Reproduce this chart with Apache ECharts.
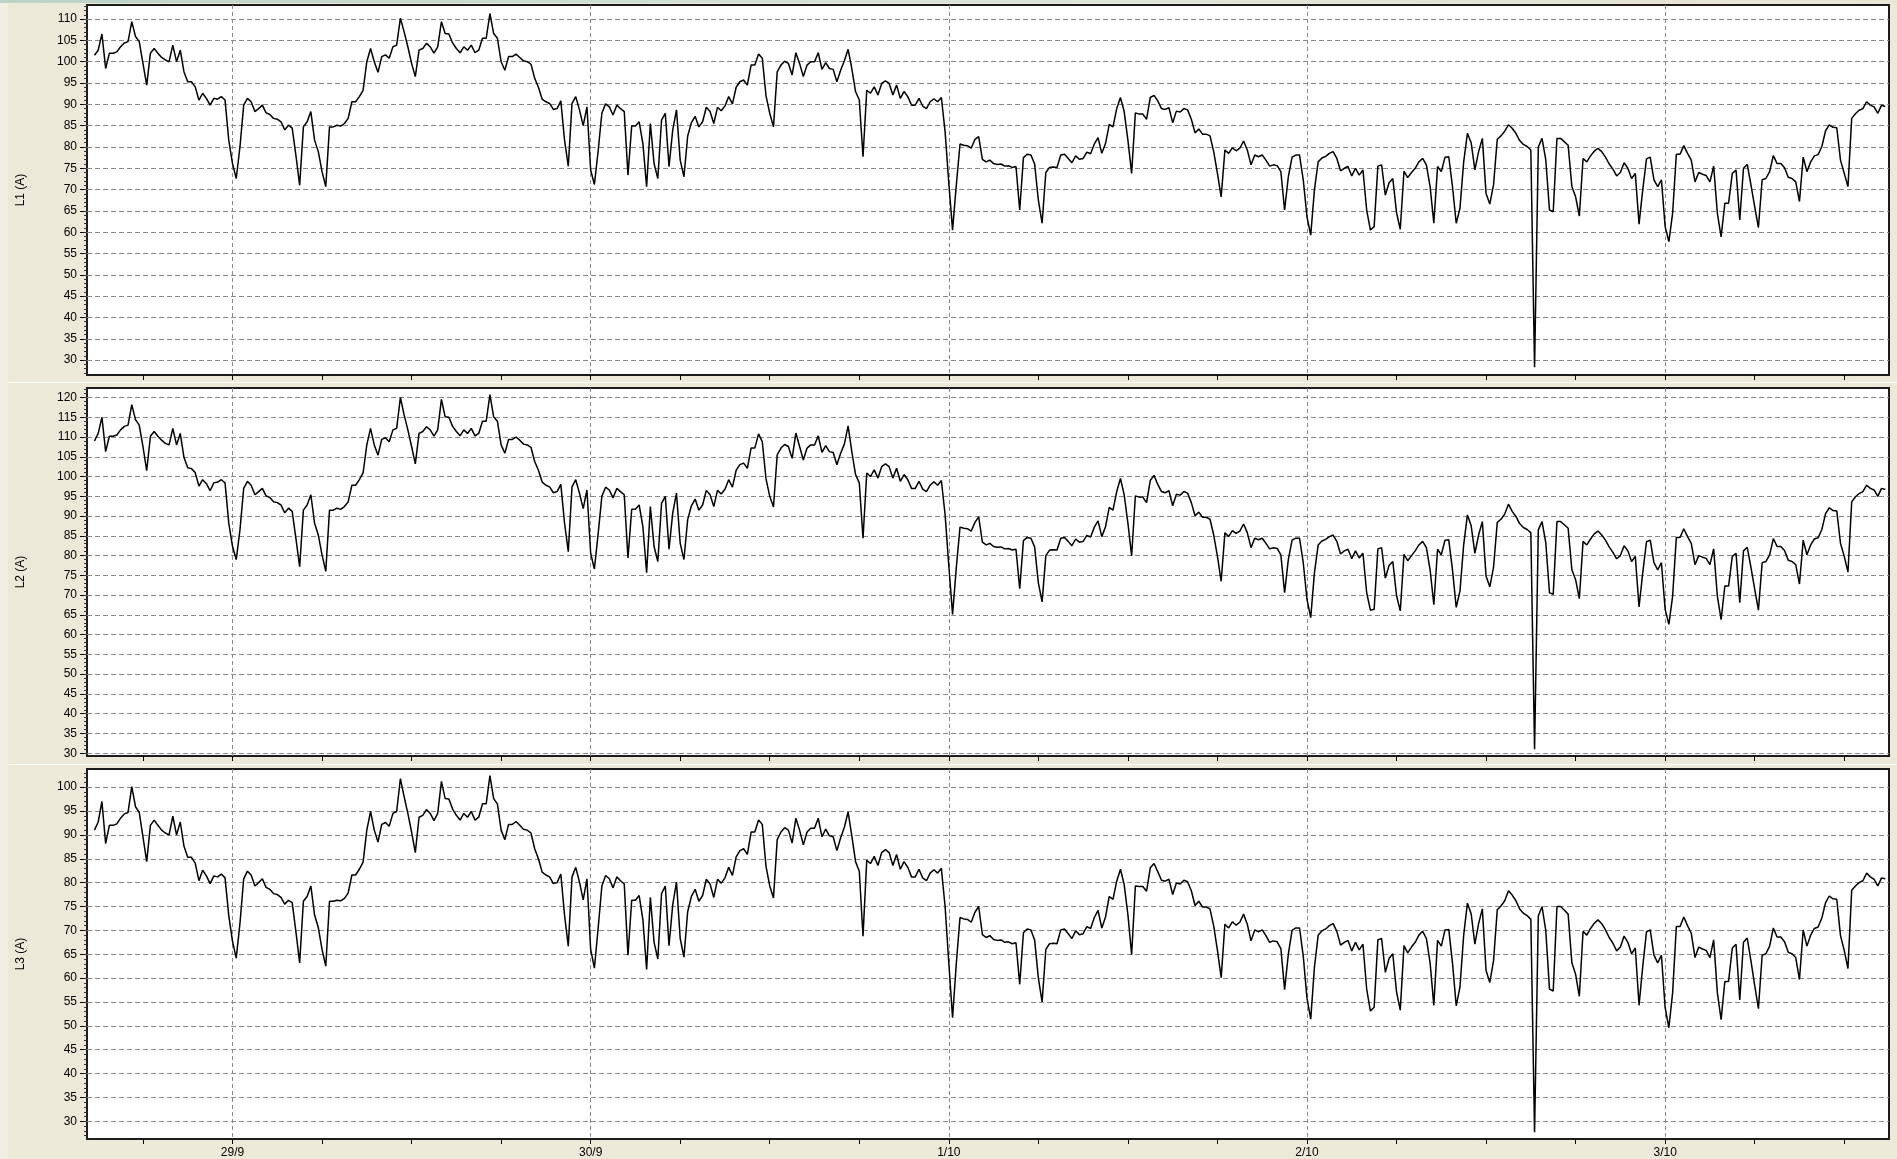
<!DOCTYPE html>
<html>
<head>
<meta charset="utf-8">
<script src="https://cdn.jsdelivr.net/npm/echarts@6/dist/echarts.min.js"></script>
<style>
html,body{margin:0;padding:0;background:#ECE9D8;}
#chart{width:1897px;height:1159px;}
</style>
</head>
<body>
<div id="chart"></div>
<script>
// ---- time categories (15-minute slots from 28/9 14:15 to 3/10 15:00) ----
const DAY_LABELS = ['28/9', '29/9', '30/9', '1/10', '2/10', '3/10'];
const START_MINUTE = 14 * 60 + 15;
const STEP_MINUTES = 15;
const CATEGORY_COUNT = 484;
const DATA_START_INDEX = 2; // first reading at 28/9 14:45

// ---- phase currents (A), one reading every 15 minutes ----
const L1 = [
101.5,102.7,106.5,98.4,102,102,102.3,103.5,104.4,104.7,
109.4,105.9,104.7,99.6,94.5,102,103.1,102,101,100.4,
100,103.9,100,102.7,97.6,95.3,95.3,94.1,91,92.6,
91.4,89.8,91.4,91.2,91.8,91,81.6,76.1,72.6,80,
89.8,91.4,90.6,88.3,89,89.8,88,87.6,86.7,86.5,
85.9,84,85.1,84.4,78,71,84.7,85.9,88.3,81.6,
78.9,74.2,70.7,84.7,84.7,85.1,84.9,85.5,86.7,90.6,
90.6,91.8,93.3,100,103.1,100,97.5,101.2,101.6,100.8,
103.5,103.9,110.2,107,103.5,99.6,96.5,102.7,103.1,104.3,
103.5,102,103.5,109.4,106.6,106.5,104.4,103.1,102.1,103.5,
102.7,103.9,102.1,102.7,105.5,105.5,111.3,106.6,105.5,100,
98,101.2,101.2,101.8,101,100.2,100,99.4,96.1,94,
91.2,90.6,90.2,88.8,89,90.8,81.6,75.5,90.2,91.8,
88.7,85,89.4,74.6,71.2,79,87.9,90.1,89.4,87.5,
89.8,89,88.3,73.4,84.9,84.9,85.9,80.8,70.7,85.5,
76.1,72.6,86.3,87.9,75.4,84,88.7,76.9,73,82.5,
85.7,87.2,84.7,85.9,89.3,88.3,85.5,89.3,88.5,89.6,
91.8,90.1,94,95.3,95.7,94.5,99.2,99.2,101.8,100.8,
92,87.9,84.7,97.6,99.2,100.1,99.6,96.9,102.1,99.6,
96.5,99.2,100,100,102.1,98.2,99.8,98.4,98.2,95.3,
98,100.2,102.9,98.4,93,91,77.7,93.3,92.6,94.1,
92.2,94.9,95.5,94.9,92.2,94.5,91.4,93,91.8,89.8,
89.8,91.4,89.6,89,90.6,91.3,90.6,91.6,83.6,71.5,
60.5,71,80.7,80.4,80.3,79.7,81.8,82.4,77.1,76.5,
76.9,76.1,75.9,76,75.5,75.6,75.2,75.4,65.2,77.5,
78.3,78.1,76,67.5,62.1,74,75.2,75.3,75.2,78.1,
78.3,77.3,76.3,77.9,77.1,77.3,78.8,78.4,80.7,82.2,
78.5,80.8,85.3,84.7,89,91.6,88.3,81.6,73.8,88,
87.7,87.7,86.5,91.6,92.1,90.8,89,88.8,89.2,85.7,
88.4,88.2,89,88.7,86.5,83.3,84.2,83,83,82.6,
78.9,73.8,68.3,79.3,78.5,79.8,79.1,79.7,81.4,79.3,
75.8,78.1,77.7,78.1,76.9,75.5,75.8,75.6,74.2,65.2,
73,77.6,78.1,78.1,72.3,63.6,59.3,70,76.5,77.4,
77.8,78.5,78.9,77.3,74.4,75,75.4,73.2,75,73.4,
74.6,65.2,60.5,61.3,75.5,75.8,68.7,71.6,72.6,64.6,
60.7,74.3,72.8,74,75,76.5,77.3,75.8,70.7,62.1,
75.4,74.2,77.6,77.7,70.7,62.1,65.6,76.5,83.2,81,
74.6,78.9,82,69.1,66.6,71.1,81.8,82.6,83.7,85.2,
84.4,83.2,81.5,80.6,80.1,79.3,28.3,80,82,77,
65.2,64.8,82,82,81.2,80.4,70.7,68.3,63.8,77.3,
76.5,77.9,79,79.7,78.9,77.6,76,74.8,73.2,74,
76.3,75,72.6,73.8,61.9,70,77.2,77.6,72.3,70.7,
72.3,61.3,57.8,64.4,78.3,78.3,80.3,78.5,76.9,71.8,
74,73.6,73.3,71.8,75.5,64.4,58.9,66.8,66.8,73.8,
74.6,62.9,75,75.9,71.1,66,61.1,72.3,72.6,74.2,
78,76.1,76.1,75.1,72.9,72.6,71.8,67.2,77.6,74.2,
76.5,77.9,78.2,80.1,83.8,85.2,84.6,84.5,76.9,73.8,
70.7,86.7,87.8,88.6,89,90.6,89.8,89.4,87.9,89.8,
89.5
];

const L2 = [
109.0,110.9,115.0,106.3,110.2,110.2,110.5,111.8,112.7,113.0,
118.2,114.4,113.0,107.6,101.5,110.2,111.4,110.2,109.2,108.4,
108.0,112.2,108.0,110.9,104.8,102.2,102.0,101.0,97.6,99.2,
98.2,96.4,98.4,98.6,99.2,98.4,88.2,82.3,79.0,86.5,
97.0,98.8,97.8,95.4,96.2,97.0,95.1,94.7,93.6,93.4,
92.8,90.8,92.0,91.2,84.3,77.2,91.5,92.8,95.4,88.2,
85.2,80.2,76.0,91.5,91.5,92.0,91.7,92.4,93.6,97.8,
97.8,99.2,100.9,108.0,112.2,108.0,105.4,109.4,109.8,108.8,
111.8,112.2,120.0,115.6,111.8,107.6,103.2,110.9,111.4,112.6,
111.8,110.2,111.8,119.5,115.1,115.0,112.7,111.4,110.3,111.8,
110.9,112.2,110.3,110.9,114.0,114.0,120.7,115.1,114.0,108.0,
105.9,109.4,109.4,110.0,109.2,108.2,108.0,107.4,103.8,101.6,
98.6,97.8,97.4,95.9,96.2,98.0,88.2,81.0,97.4,99.2,
95.8,91.9,96.6,80.6,76.6,85.5,95.0,97.3,96.6,94.6,
97.0,96.2,95.4,79.4,91.7,91.7,92.8,87.3,75.7,92.4,
82.3,78.5,93.2,95.0,81.6,90.8,95.8,83.1,79.0,89.1,
92.6,94.3,91.5,92.8,96.5,95.4,92.4,96.5,95.6,96.8,
99.2,97.3,101.6,103.0,103.4,102.1,107.2,107.2,110.8,108.8,
99.4,95.0,92.3,105.5,107.2,108.1,107.6,104.6,111.0,107.6,
104.2,107.2,108.0,108.0,110.3,106.1,107.8,106.3,106.1,103.0,
105.9,108.2,112.8,106.3,100.5,98.4,84.4,100.9,100.0,101.7,
99.6,102.5,103.2,102.5,99.6,102.1,98.8,100.5,99.2,97.0,
97.0,98.8,96.8,96.2,97.8,98.7,97.8,99.0,90.4,77.4,
65.1,76.9,87.2,86.9,86.8,86.2,88.4,89.8,83.4,82.7,
83.1,82.3,82.1,82.2,81.7,81.8,81.4,81.6,71.6,83.8,
84.6,84.4,82.2,73.1,68.3,80.0,81.4,81.5,81.4,84.4,
84.6,83.6,82.5,84.2,83.4,83.6,85.1,84.7,87.2,88.8,
84.8,87.3,92.2,91.5,96.2,99.5,95.4,88.2,79.9,95.1,
94.8,94.8,93.4,99.0,100.3,98.0,96.2,95.9,96.4,92.6,
95.5,95.3,96.2,95.8,93.4,90.1,91.0,89.7,89.7,89.2,
85.2,79.8,73.5,85.8,84.8,86.3,85.6,86.2,88.0,85.8,
82.0,84.4,84.0,84.4,83.1,81.7,82.0,81.8,80.2,70.6,
79.0,83.9,84.4,84.4,78.2,68.9,64.3,75.7,82.7,83.7,
84.1,84.8,85.2,83.6,80.4,81.2,81.6,79.2,81.2,79.4,
80.6,70.6,66.2,66.4,81.7,82.0,74.3,77.5,78.5,69.9,
66.0,80.3,78.7,80.0,81.2,82.7,83.6,82.0,76.4,67.6,
81.6,80.2,83.9,84.0,76.4,66.9,71.0,82.7,90.3,87.6,
80.6,85.2,88.6,74.8,72.1,77.0,88.4,89.2,90.5,93.0,
91.2,89.9,88.1,87.1,86.6,85.8,31.0,86.5,88.6,83.3,
70.6,70.2,88.6,88.6,87.8,86.9,76.4,73.9,69.1,83.6,
82.7,84.2,85.5,86.2,85.2,83.9,82.2,80.8,79.2,80.0,
82.5,81.2,78.5,79.8,67.0,75.7,83.5,83.9,78.2,76.4,
78.2,66.4,62.6,69.7,84.6,84.6,86.8,84.8,83.1,77.7,
80.0,79.6,79.3,77.7,81.7,69.7,63.8,72.3,72.3,79.8,
80.6,68.1,81.2,82.1,77.0,71.5,66.2,78.2,78.5,80.2,
84.3,82.3,82.3,81.3,78.8,78.5,77.7,72.8,83.9,80.2,
82.7,84.2,84.5,86.6,90.6,92.1,91.4,91.3,83.1,79.8,
75.8,93.6,94.9,95.7,96.2,97.8,97.0,96.6,95.0,97.0,
96.7
];

const L3 = [
91.0,92.7,97.0,88.2,92.0,92.0,92.3,93.5,94.4,94.7,
100.1,95.9,94.7,89.6,84.4,92.0,93.1,92.0,91.0,90.4,
90.0,93.9,90.0,92.7,87.6,85.3,85.3,84.1,80.4,82.6,
81.4,79.8,81.4,81.2,81.8,81.0,73.1,67.7,64.2,71.5,
80.8,82.4,81.6,79.3,80.0,80.8,79.0,78.6,77.7,77.5,
76.9,75.5,76.3,75.8,69.7,63.2,76.1,77.1,79.3,73.2,
70.6,66.0,62.5,76.1,76.1,76.3,76.2,76.7,77.8,81.6,
81.6,82.8,84.3,91.0,94.9,91.0,88.5,92.2,92.6,91.8,
94.5,94.9,101.8,98.0,94.5,90.6,86.3,93.7,94.1,95.3,
94.5,93.0,94.5,101.2,97.6,97.5,95.4,94.1,93.1,94.5,
93.7,94.9,93.1,93.7,96.5,96.5,102.4,97.6,96.5,91.0,
89.0,92.2,92.2,92.8,92.0,91.2,91.0,90.4,87.1,85.0,
82.2,81.6,81.2,79.8,80.0,81.8,73.2,66.7,81.2,83.2,
80.1,76.4,80.8,66.0,62.1,70.4,79.3,81.5,80.8,78.9,
81.2,80.4,79.7,64.8,76.3,76.3,77.3,72.2,61.8,76.9,
67.5,64.0,77.7,79.3,66.8,75.4,80.1,68.3,64.4,73.9,
77.1,78.6,76.1,77.3,80.7,79.7,76.9,80.7,79.9,81.0,
83.2,81.5,85.4,86.7,87.1,85.9,90.6,90.6,93.1,92.2,
83.4,79.3,76.8,89.0,90.6,91.5,91.0,88.3,93.5,91.0,
87.9,90.6,91.4,91.4,93.5,89.6,91.2,89.8,89.6,86.7,
89.4,91.6,94.8,89.8,84.4,82.4,68.8,84.7,84.0,85.5,
83.6,86.3,86.9,86.3,83.6,85.9,82.8,84.4,83.2,81.2,
81.2,82.8,81.0,80.4,82.0,82.7,82.0,83.0,75.0,63.1,
51.7,63.0,72.7,72.4,72.3,71.7,73.8,75.0,69.1,68.5,
68.9,68.1,67.9,68.0,67.5,67.6,67.2,67.4,58.7,69.5,
70.3,70.1,68.0,60.0,55.0,66.0,67.2,67.3,67.2,70.1,
70.3,69.3,68.3,69.9,69.1,69.3,70.8,70.4,72.7,74.2,
70.5,72.8,77.1,76.5,80.3,82.8,79.6,73.3,64.9,79.3,
79.2,79.2,78.2,83.1,84.0,82.3,80.5,80.3,80.7,77.5,
79.9,79.7,80.5,80.2,78.3,75.2,76.1,74.9,74.9,74.5,
70.9,65.8,60.1,71.3,70.5,71.8,71.1,71.7,73.4,71.3,
67.8,70.1,69.7,70.1,68.9,67.5,67.8,67.6,66.2,57.6,
65.0,70.0,70.5,70.5,64.6,55.8,51.4,62.3,69.0,69.9,
70.3,71.0,71.4,69.8,66.9,67.5,67.9,65.7,67.5,65.9,
67.1,57.7,53.1,53.9,68.0,68.3,61.2,64.1,65.1,57.1,
53.3,66.8,65.3,66.5,67.5,69.0,69.8,68.3,63.2,54.3,
67.9,66.7,70.1,70.2,63.2,54.2,58.1,69.0,75.7,73.5,
67.1,71.4,74.5,61.6,59.1,63.6,74.3,75.1,76.2,78.3,
77.4,76.2,74.5,73.6,73.1,72.3,27.7,73.0,75.0,70.0,
57.7,57.3,75.0,75.0,74.2,73.4,63.2,60.8,56.2,69.8,
69.0,70.4,71.5,72.2,71.4,70.1,68.5,67.3,65.7,66.5,
68.8,67.5,65.1,66.3,54.3,62.5,69.7,70.1,64.8,63.2,
64.8,53.8,49.6,56.9,70.8,70.8,72.8,71.0,69.4,64.3,
66.5,66.1,65.8,64.3,68.0,56.9,51.3,59.3,59.3,66.3,
67.1,55.4,67.5,68.4,63.6,58.5,53.6,64.8,65.1,66.7,
70.5,68.6,68.6,67.6,65.4,65.1,64.3,59.7,70.1,66.7,
69.0,70.4,70.7,72.6,75.8,77.2,76.6,76.5,68.9,65.8,
62.0,78.4,79.3,80.0,80.4,82.0,81.2,80.7,79.3,81.0,
80.8
];

// ---- y tick labels ----
const L1_TICKS = [30,35,40,45,50,55,60,65,70,75,80,85,90,95,100,105,110];
const L2_TICKS = [30,35,40,45,50,55,60,65,70,75,80,85,90,95,100,105,110,115,120];
const L3_TICKS = [30,35,40,45,50,55,60,65,70,75,80,85,90,95,100];
const AXIS_NAMES = ['L1 (A)', 'L2 (A)', 'L3 (A)'];

// ---------------------------------------------------------------
function pad2(n){ return (n < 10 ? '0' : '') + n; }
const categories = [];
for (let i = 0; i < CATEGORY_COUNT; i++) {
  const m = START_MINUTE + STEP_MINUTES * i;
  const d = Math.floor(m / 1440), r = m % 1440;
  categories.push(DAY_LABELS[d] + ' ' + pad2(Math.floor(r / 60)) + ':' + pad2(r % 60));
}
const minuteOf = idx => (START_MINUTE + STEP_MINUTES * idx);
const isSixHour = idx => minuteOf(idx) % 360 === 0;
const isMidnight = idx => minuteOf(idx) % 1440 === 0;

function padSeries(vals){
  const out = [];
  for (let i = 0; i < CATEGORY_COUNT; i++) {
    const k = i - DATA_START_INDEX;
    out.push(k >= 0 && k < vals.length ? vals[k] : '-');
  }
  return out;
}
function intRange(a, b){ const r = []; for (let v = Math.ceil(a); v <= Math.floor(b); v++) r.push(v); return r; }

const FONT = 'Liberation Sans, Arial, sans-serif';
const LAYOUT = [
  { top: 5,   height: 370, min: 26.5, max: 113.3 },
  { top: 388, height: 368, min: 29.3, max: 122.4 },
  { top: 769, height: 371, min: 26.3, max: 103.8 }
];
const SERIES = [L1, L2, L3];
const TICKS = [L1_TICKS, L2_TICKS, L3_TICKS];

const grids = [], xAxes = [], yAxes = [], series = [];
LAYOUT.forEach((p, k) => {
  grids.push({
    left: 87, width: 1802, top: p.top, height: p.height,
    show: true, backgroundColor: '#ffffff', borderColor: '#1c1c1c', borderWidth: 2
  });
  xAxes.push({
    type: 'category', gridIndex: k, data: categories, boundaryGap: false,
    axisLine: { show: false },
    axisTick: { show: true, inside: false, length: 5, interval: (i) => isSixHour(i),
      lineStyle: { color: '#000', width: 1 } },
    axisLabel: { show: k === 2, interval: (i) => isMidnight(i), margin: 8,
      formatter: v => v.split(' ')[0], color: '#000', fontSize: 12, fontFamily: FONT },
    splitLine: { show: true, interval: (i) => isMidnight(i),
      lineStyle: { color: '#8a8a8a', width: 1, type: [4, 3] } }
  });
  yAxes[k] = {
    type: 'value', gridIndex: k, position: 'left', min: p.min, max: p.max,
    name: AXIS_NAMES[k], nameLocation: 'middle', nameGap: 60,
    nameTextStyle: { color: '#000', fontSize: 12, fontFamily: FONT },
    axisLine: { show: false },
    axisTick: { show: true, length: 7, customValues: TICKS[k], lineStyle: { color: '#000' } },
    axisLabel: { customValues: TICKS[k], color: '#000', fontSize: 12, fontFamily: FONT, margin: 10,
      formatter: v => String(Math.round(v)) },
    splitLine: { show: true, lineStyle: { color: '#8a8a8a', width: 1, type: [5, 3] } }
  };
  yAxes[3 + k] = {
    type: 'value', gridIndex: k, position: 'left', min: p.min, max: p.max,
    axisLine: { show: false },
    axisTick: { show: true, length: 3, customValues: intRange(p.min, p.max), lineStyle: { color: '#333' } },
    axisLabel: { show: false },
    splitLine: { show: false }
  };
  series.push({
    type: 'line', xAxisIndex: k, yAxisIndex: k, data: padSeries(SERIES[k]),
    symbol: 'none', showSymbol: false, connectNulls: false,
    lineStyle: { color: '#000', width: 1.5 }, itemStyle: { color: '#000' },
    silent: true
  });
});

const chart = echarts.init(document.getElementById('chart'), null, { renderer: 'canvas' });
chart.setOption({
  animation: false,
  backgroundColor: '#ECE9D8',
  grid: grids, xAxis: xAxes, yAxis: yAxes, series: series,
  graphic: [
    { type: 'rect', left: 0, top: 0, shape: { width: 1897, height: 3 },
      style: { fill: { type: 'linear', x: 0, y: 0, x2: 1, y2: 0,
        colorStops: [{ offset: 0, color: '#b9d3c6' }, { offset: 0.5, color: '#d9e4d8' }, { offset: 1, color: '#e9e6d6' }] } }, silent: true },
    { type: 'rect', left: 0, top: 3, shape: { width: 8, height: 1156 }, style: { fill: '#F1EFE4' }, silent: true },
    { type: 'rect', left: 8, top: 382, shape: { width: 1889, height: 1 }, style: { fill: '#ffffff' }, silent: true },
    { type: 'rect', left: 8, top: 764, shape: { width: 1889, height: 1 }, style: { fill: '#ffffff' }, silent: true }
  ]
});
</script>
</body>
</html>
